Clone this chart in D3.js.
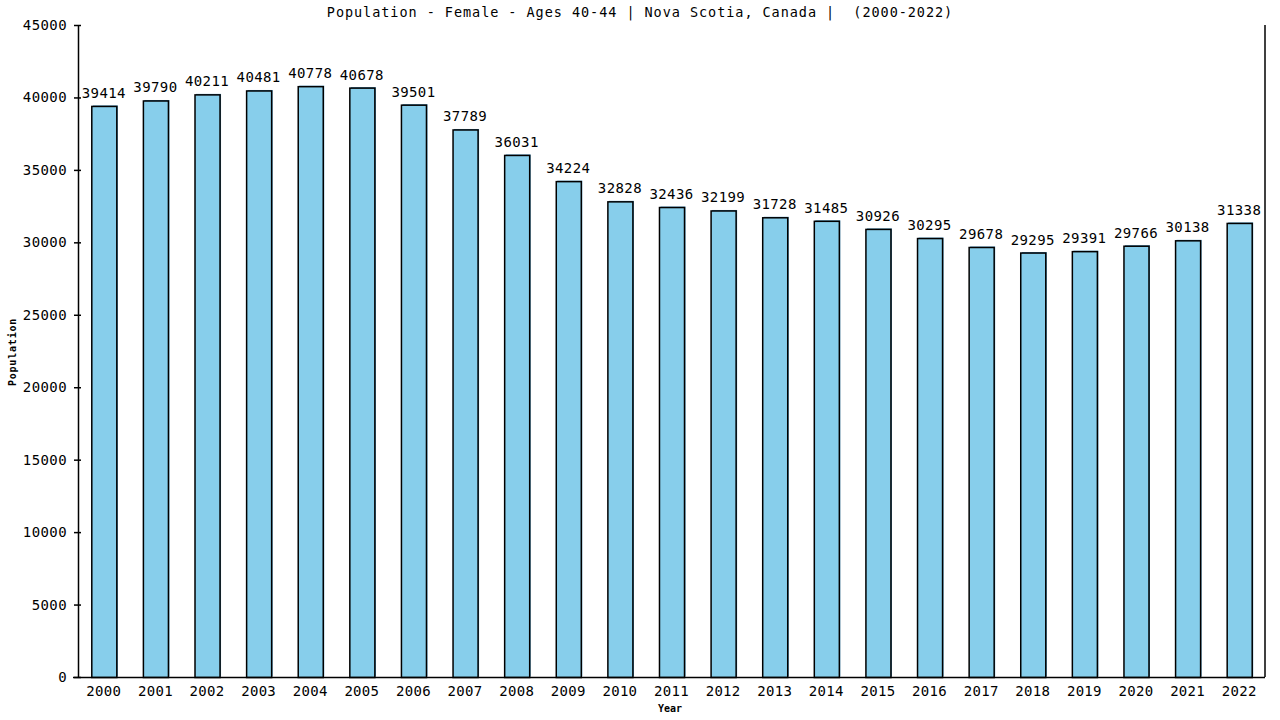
<!DOCTYPE html>
<html>
<head>
<meta charset="utf-8">
<script src="https://cdn.jsdelivr.net/npm/d3@7"></script>
<style>
  body { margin: 0; background: #fff; }
  text { font-family: "DejaVu Sans Mono", monospace; }
</style>
</head>
<body>
<svg id="canvas"></svg>
<script>
const years = ["2000","2001","2002","2003","2004","2005","2006","2007","2008","2009","2010","2011",
               "2012","2013","2014","2015","2016","2017","2018","2019","2020","2021","2022"];
const population = [39414,39790,40211,40481,40778,40678,39501,37789,36031,34224,32828,32436,
                    32199,31728,31485,30926,30295,29678,29295,29391,29766,30138,31338];
const yTicks = [0,5000,10000,15000,20000,25000,30000,35000,40000,45000];
const title = "Population - Female - Ages 40-44 | Nova Scotia, Canada |  (2000-2022)";

const data = years.map((y, i) => ({ year: y, value: population[i] }));

const width = 1280, height = 720;
const margin = { top: 25, left: 78, bottom: 43, right: 15 };
const iwidth = width - margin.left - margin.right;
const iheight = height - margin.top - margin.bottom;

const svg = d3.select("#canvas").attr("width", width).attr("height", height);

svg.append("text")
    .attr("x", 640).attr("y", 17)
    .attr("text-anchor", "middle")
    .style("font-size", "13.5px")
    .style("letter-spacing", "0.95px")
    .style("white-space", "pre")
    .text(title);

const g = svg.append("g").attr("transform", `translate(${margin.left},${margin.top})`);

const y = d3.scaleLinear().domain([0, 45000]).range([iheight, 0]);
const x = d3.scaleBand().domain(years).range([0, iwidth])
    .paddingInner(0.515).paddingOuter(0.2575);

// bar shadow (thin blue edge) then bar
g.selectAll("rect.shadow").data(data).enter().append("rect")
    .attr("class", "shadow")
    .attr("x", d => x(d.year) + 1.5)
    .attr("y", d => y(d.value) - 0.5)
    .attr("width", x.bandwidth())
    .attr("height", d => iheight - y(d.value))
    .style("fill", "#4a90b8");

g.selectAll("rect.bar").data(data).enter().append("rect")
    .attr("class", "bar")
    .attr("x", d => x(d.year) + 0.5)
    .attr("y", d => y(d.value) + 0.5)
    .attr("width", x.bandwidth())
    .attr("height", d => iheight - y(d.value))
    .style("fill", "#87ceeb")
    .style("stroke", "#000")
    .style("stroke-width", 1.5);

g.selectAll("text.val").data(data).enter().append("text")
    .attr("class", "val")
    .attr("x", d => x(d.year) + x.bandwidth() / 2)
    .attr("y", d => y(d.value) - 8)
    .attr("text-anchor", "middle")
    .style("font-size", "14px")
    .style("letter-spacing", "0.4px")
    .text(d => d.value);

// y axis
const yAxis = g.append("g")
    .call(d3.axisLeft(y).tickValues(yTicks).tickFormat(d3.format("d"))
        .tickSize(4).tickSizeOuter(0).tickPadding(7));
yAxis.select(".domain").attr("stroke-width", 1.5);
yAxis.selectAll(".tick line").attr("x1", 3).attr("stroke-width", 1.5);
yAxis.selectAll(".tick text")
    .style("font-family", "DejaVu Sans Mono, monospace")
    .style("font-size", "14px")
    .style("letter-spacing", "0.4px")
    .attr("fill", "#000");

// x axis
const xAxis = g.append("g")
    .attr("transform", `translate(0,${iheight})`)
    .call(d3.axisBottom(x).tickSize(0).tickPadding(9));
xAxis.select(".domain").attr("d", `M-5,0.5H${iwidth}`).attr("stroke-width", 1.5);
xAxis.selectAll(".tick text")
    .style("font-family", "DejaVu Sans Mono, monospace")
    .style("font-size", "14px")
    .style("letter-spacing", "0.3px")
    .attr("fill", "#000");

// right border
g.append("line")
    .attr("x1", iwidth).attr("x2", iwidth)
    .attr("y1", 0).attr("y2", iheight)
    .attr("stroke", "#000").attr("stroke-width", 1.5);

svg.append("text")
    .attr("x", 670).attr("y", 712)
    .attr("text-anchor", "middle")
    .style("font-size", "10px")
    .style("font-weight", "bold")
    .text("Year");

svg.append("text")
    .attr("transform", "translate(16,352) rotate(-90)")
    .attr("text-anchor", "middle")
    .style("font-size", "10px")
    .style("font-weight", "bold")
    .style("letter-spacing", "0.8px")
    .text("Population");
</script>
</body>
</html>
